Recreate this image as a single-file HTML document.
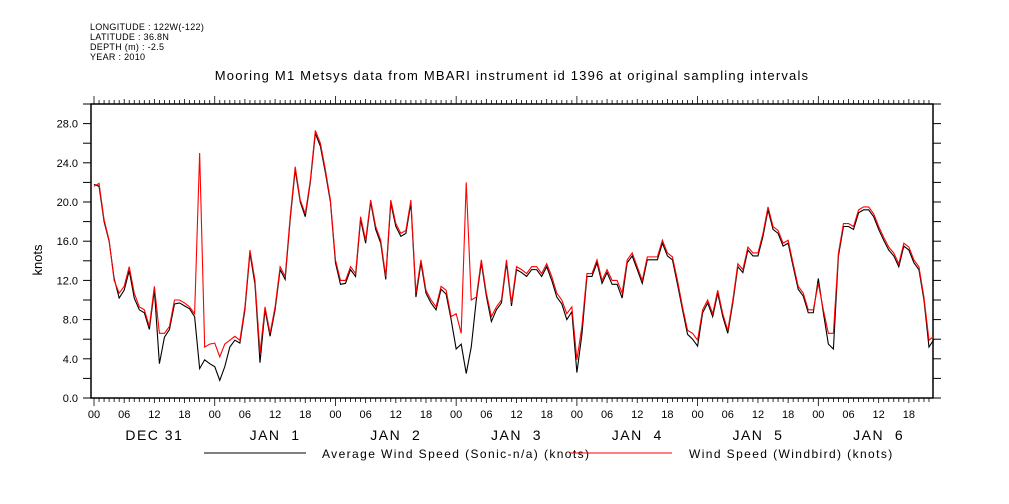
<!DOCTYPE html>
<html><head><meta charset="utf-8"><style>
body{margin:0;background:#fff;width:1009px;height:504px;overflow:hidden}
svg{display:block;font-family:"Liberation Sans",sans-serif}
</style></head><body>
<svg id="chart" width="1009" height="504" viewBox="0 0 1009 504">
<g font-size="9" fill="#000" style="letter-spacing:0.3px">
<text x="90" y="30">LONGITUDE : 122W(-122)</text>
<text x="90" y="40">LATITUDE : 36.8N</text>
<text x="90" y="50">DEPTH (m) : -2.5</text>
<text x="90" y="60">YEAR : 2010</text>
</g>
<text x="512" y="80" font-size="13" text-anchor="middle" style="letter-spacing:1.2px">Mooring M1 Metsys data from MBARI instrument id 1396 at original sampling intervals</text>
<text transform="translate(42,260) rotate(-90)" font-size="13" text-anchor="middle">knots</text>
<g id="axes"></g>
<g id="series"></g>
<g font-size="12" style="letter-spacing:1.4px">
<line x1="204" y1="453" x2="306" y2="453" stroke="#000"/>
<text x="322" y="458">Average Wind Speed (Sonic-n/a) (knots)</text>
<line x1="570" y1="453" x2="672" y2="453" stroke="#f00"/>
<text x="689" y="458">Wind Speed (Windbird) (knots)</text>
</g>
</svg>
<script>
const hourLabels=["00","06","12","18"];
const dayLabels=["DEC 31","JAN  1","JAN  2","JAN  3","JAN  4","JAN  5","JAN  6"];
const yTicks=[0,4,8,12,16,20,24,28];
const windbird=[21.6,21.9,18.2,16.1,12,10.7,11.4,13.4,10.7,9.3,9,7.3,11.4,6.6,6.6,7.3,10,10,9.7,9.3,8.6,25,5.2,5.5,5.6,4.2,5.5,5.9,6.3,5.9,9.3,15.1,12,4.6,9.3,6.6,9.3,13.4,12.4,18.5,23.6,20.2,18.8,22.2,27.3,26,23.3,20.2,14.1,12,12,13.4,12.7,18.5,16.1,20.2,17.5,16.1,12.4,20.2,17.8,16.8,17.1,20.2,10.7,14.1,11,10,9.3,11.4,11,8.3,8.6,6.6,22,10,10.3,14.1,10.7,8.3,9.3,10,14.1,9.7,13.4,13.1,12.7,13.4,13.4,12.7,13.7,12.4,10.7,10,8.6,9.3,3.9,7.3,12.7,12.7,14.1,12,13.1,12,12,10.7,14.1,14.8,13.4,12,14.4,14.4,14.4,16.1,14.8,14.4,12,9.3,6.9,6.6,5.9,9,10,8.6,11,8.6,6.9,10,13.7,13.1,15.4,14.8,14.8,16.8,19.5,17.5,17.1,15.8,16.1,13.7,11.4,10.7,9,9,11.7,9,6.6,6.6,14.8,17.8,17.8,17.5,19.2,19.5,19.5,18.8,17.5,16.4,15.4,14.8,13.7,15.8,15.4,14.1,13.4,10.3,5.9,6.3];
const average=[21.8,21.6,18.0,16.0,12.2,10.2,11.0,13.0,10.2,9.0,8.7,7.0,11.0,3.5,6.2,7.0,9.6,9.7,9.4,9.1,8.3,3.0,3.9,3.5,3.2,1.8,3.2,5.2,5.9,5.6,9.0,14.8,11.6,3.6,9.0,6.3,9.0,13.1,12.1,18.2,23.3,20.0,18.5,22.0,27.0,25.7,23.0,20.0,13.8,11.6,11.7,13.1,12.4,18.2,15.8,20.0,17.2,15.8,12.1,19.9,17.5,16.5,16.8,19.9,10.3,13.8,10.7,9.7,9.0,11.1,10.6,8.0,5.0,5.5,2.5,5.2,10.0,13.8,10.4,7.8,9.0,9.7,13.8,9.4,13.1,12.8,12.4,13.1,13.1,12.4,13.4,12.0,10.3,9.6,8.0,8.8,2.6,6.5,12.4,12.4,13.8,11.7,12.8,11.6,11.6,10.2,13.8,14.5,13.1,11.7,14.1,14.1,14.1,15.8,14.5,14.1,11.6,9.0,6.5,6.0,5.3,8.7,9.7,8.3,10.7,8.3,6.6,9.7,13.4,12.8,15.1,14.5,14.5,16.5,19.2,17.2,16.8,15.5,15.8,13.4,11.1,10.4,8.7,8.7,12.2,8.7,5.5,5.0,14.5,17.5,17.5,17.2,18.9,19.2,19.2,18.5,17.2,16.1,15.1,14.5,13.4,15.5,15.1,13.8,13.1,10.0,5.2,6.0];

const L=91,R=933,T=104,B=398,XMIN=-0.6,XMAX=166.8,YMIN=0,YMAX=30;
const sx=h=>L+(h-XMIN)/(XMAX-XMIN)*(R-L);
const sy=v=>B-(v-YMIN)/(YMAX-YMIN)*(B-T);
const NS="http://www.w3.org/2000/svg";
const axes=document.getElementById('axes');
function mk(tag,attrs,parent){const e=document.createElementNS(NS,tag);for(const k in attrs)e.setAttribute(k,attrs[k]);parent.appendChild(e);return e;}

const frame=mk('rect',{x:L,y:T,width:R-L,height:B-T,fill:'none',stroke:'#000','stroke-width':1.5},axes);



for(let h=0;h<=166;h+=1){
  const x=sx(h),len=(h%24===0)?8:(h%6===0?5:4);
  const t1=mk('line',{x1:x,y1:T,x2:x,y2:T-len,stroke:'#000','stroke-width':0.8},axes);
  
  
  const t2=mk('line',{x1:x,y1:B,x2:x,y2:B+len,stroke:'#000','stroke-width':0.8},axes);
  
  
}
for(let h=0;h<=166;h+=6){
  const t=mk('text',{x:sx(h),y:418,'font-size':11,'text-anchor':'middle'},axes);
  t.textContent=hourLabels[(h/6)%4];
  
  
}
dayLabels.forEach((d,i)=>{
  const t=mk('text',{x:sx(i*24+12),y:440,'font-size':14,'text-anchor':'middle'},axes);
  t.textContent=d;
  t.style.whiteSpace='pre';
  t.style.letterSpacing='1.5px';
  
  
});
for(let v=0;v<=30;v+=2){
  const y=sy(v);
  const a=mk('line',{x1:L,y1:y,x2:L-8,y2:y,stroke:'#000'},axes);
  
  
  const b=mk('line',{x1:R,y1:y,x2:R+8,y2:y,stroke:'#000'},axes);
  
  
}
yTicks.forEach(v=>{
  const t=mk('text',{x:78,y:sy(v)+4,'font-size':11,'text-anchor':'end'},axes);
  t.textContent=v.toFixed(1);
  
  
});
const ser=document.getElementById('series');
function line(data,color,name){
  const p=mk('polyline',{points:data.map((v,i)=>sx(i)+','+sy(v)).join(' '),fill:'none',stroke:color,'stroke-width':1.1},ser);
  
  
}
line(average,'#000','average-wind-speed-line');
line(windbird,'#f00','windbird-wind-speed-line');
</script>
</body></html>
